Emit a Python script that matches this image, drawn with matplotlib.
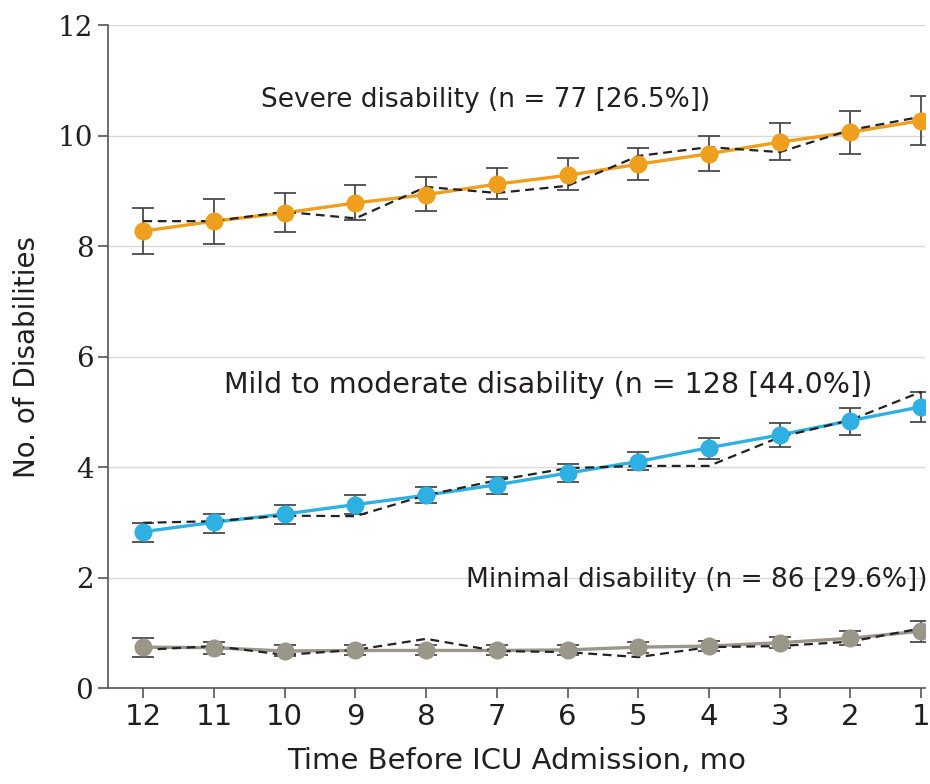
import matplotlib
matplotlib.use("Agg")
import matplotlib.pyplot as plt
from matplotlib import font_manager

months = [12, 11, 10, 9, 8, 7, 6, 5, 4, 3, 2, 1]

severe_fit = [8.27, 8.45, 8.60, 8.78, 8.93, 9.12, 9.28, 9.48, 9.67, 9.88, 10.06, 10.27]
severe_lo = [7.86, 8.04, 8.25, 8.47, 8.63, 8.85, 9.01, 9.19, 9.36, 9.56, 9.67, 9.83]
severe_hi = [8.69, 8.85, 8.96, 9.10, 9.25, 9.41, 9.59, 9.77, 10.00, 10.23, 10.44, 10.71]
severe_obs = [8.45, 8.45, 8.62, 8.50, 9.07, 8.96, 9.09, 9.63, 9.79, 9.70, 10.10, 10.34]

mild_fit = [2.83, 3.00, 3.15, 3.32, 3.49, 3.68, 3.89, 4.10, 4.35, 4.58, 4.84, 5.09]
mild_lo = [2.64, 2.80, 2.97, 3.15, 3.35, 3.51, 3.73, 3.95, 4.14, 4.36, 4.58, 4.81]
mild_hi = [2.99, 3.15, 3.31, 3.49, 3.64, 3.82, 4.05, 4.27, 4.52, 4.80, 5.07, 5.36]
mild_obs = [2.99, 3.02, 3.12, 3.11, 3.49, 3.76, 3.98, 4.02, 4.02, 4.54, 4.85, 5.36]

minimal_fit = [0.74, 0.73, 0.67, 0.68, 0.68, 0.68, 0.69, 0.74, 0.76, 0.82, 0.90, 1.03]
minimal_lo = [0.57, 0.62, 0.58, 0.60, 0.59, 0.59, 0.60, 0.64, 0.67, 0.72, 0.77, 0.84]
minimal_hi = [0.90, 0.84, 0.77, 0.77, 0.77, 0.77, 0.78, 0.84, 0.86, 0.92, 1.04, 1.21]
minimal_obs = [0.69, 0.76, 0.60, 0.69, 0.89, 0.67, 0.65, 0.56, 0.74, 0.76, 0.84, 1.08]

labels = ["Severe disability (n = 77 [26.5%])",
          "Mild to moderate disability (n = 128 [44.0%])",
          "Minimal disability (n = 86 [29.6%])"]

yticks = [0, 2, 4, 6, 8, 10, 12]

plt.rcParams['font.family'] = ['DejaVu Sans']

fig = plt.figure(figsize=(9.3, 7.84), dpi=100)
ax = fig.add_axes([0.116, 0.1224, 0.879, 0.8457])

series = [
    (severe_fit, severe_lo, severe_hi, severe_obs, "#EF9F1E"),
    (mild_fit, mild_lo, mild_hi, mild_obs, "#2FB0E2"),
    (minimal_fit, minimal_lo, minimal_hi, minimal_obs, "#9B968A"),
]

for fit, lo, hi, obs, col in series:
    yerr = [[f - l for f, l in zip(fit, lo)], [h - f for f, h in zip(fit, hi)]]
    ax.errorbar(months, fit, yerr=yerr, fmt='none', ecolor="#4a4a4a",
                elinewidth=1.3, capsize=8, capthick=1.3, zorder=2)
    ax.plot(months, fit, color=col, lw=2.4, zorder=3)
    ax.plot(months, obs, color="#222222", lw=1.6, ls=(0, (4, 2.5)), zorder=4)
    ax.plot(months, fit, ls='none', marker='o', ms=12, color=col, zorder=5)

ax.annotate(labels[0], xy=(486, 784 - 100), xycoords='figure pixels',
            ha='center', va='center', fontsize=19, color="#231f20")
ax.annotate(labels[1], xy=(548, 784 - 385), xycoords='figure pixels',
            ha='center', va='center', fontsize=20.5, color="#231f20")
ax.annotate(labels[2], xy=(927, 784 - 580), xycoords='figure pixels',
            ha='right', va='center', fontsize=19, color="#231f20")

ax.set_xlim(12.5, 0.94)
ax.set_ylim(0, 12)
ax.set_xticks(months)
ax.set_xticklabels([str(m) for m in months])
ax.set_yticks(yticks)
ax.set_yticklabels([str(t) for t in yticks], family=['DejaVu Serif'])
ax.grid(axis='y', color="#d9d9d9", lw=1)
ax.set_axisbelow(True)
for s in ['top', 'right']:
    ax.spines[s].set_visible(False)
for s in ['left', 'bottom']:
    ax.spines[s].set_color("#555555")
    ax.spines[s].set_linewidth(1.2)
ax.tick_params(axis='both', colors="#555555", length=7, width=1.2,
               labelcolor="#231f20", labelsize=21)
ax.tick_params(axis='y', labelsize=20)
ax.set_xlabel("Time Before ICU Admission, mo", fontsize=21, color="#231f20", labelpad=12)
ax.set_ylabel("No. of Disabilities", fontsize=20, color="#231f20", labelpad=12)

fig.savefig("out.png", dpi=100)
